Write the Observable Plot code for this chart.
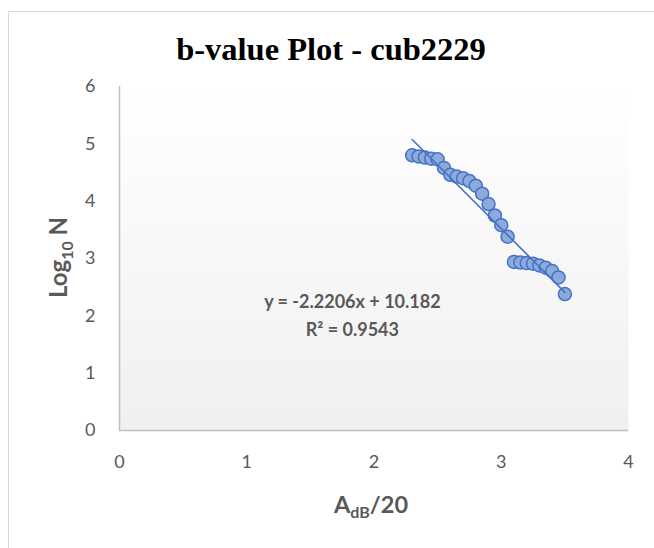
<!DOCTYPE html>
<html>
<head>
<meta charset="utf-8">
<script src="https://cdn.jsdelivr.net/npm/d3@7"></script>
<script src="https://cdn.jsdelivr.net/npm/@observablehq/plot@0.6"></script>
<style>
  html, body { margin: 0; padding: 0; background: #fff; overflow: hidden; }
  #chart { position: relative; width: 654px; height: 548px; }
</style>
</head>
<body>
<div id="chart"></div>
<script>
// ---- data ----
const xValues = [2.3, 2.35, 2.4, 2.45, 2.5, 2.55, 2.6, 2.65, 2.7, 2.75, 2.8, 2.85, 2.9,
                 2.95, 3.0, 3.05, 3.1, 3.15, 3.2, 3.25, 3.3, 3.35, 3.4, 3.45, 3.5];
const yValues = [4.80, 4.78, 4.76, 4.74, 4.73, 4.58, 4.46, 4.43, 4.40, 4.35, 4.27, 4.13, 3.95,
                 3.75, 3.58, 3.38, 2.94, 2.93, 2.92, 2.91, 2.88, 2.84, 2.78, 2.67, 2.38];
const slope = -2.2206;
const intercept = 10.182;
const trendRange = [2.3, 3.5];
const xTicks = [0, 1, 2, 3, 4];
const yTicks = [0, 1, 2, 3, 4, 5, 6];
const eqLabels = ["y = -2.2206x + 10.182", "R² = 0.9543"];
const eqX = [1.83, 1.83];
const eqY = [2.23, 1.745];
const titleText = "b-value Plot - cub2229";

const points = xValues.map((x, i) => ({x, y: yValues[i]}));
const trend = trendRange.map(x => ({x, y: slope * x + intercept}));
const eq = eqLabels.map((t, i) => ({t, x: eqX[i], y: eqY[i]}));

const gray = "#595959";
const fmt = d => String(d);

const plot = Plot.plot({
  width: 654,
  height: 548,
  marginLeft: 119,
  marginRight: 26,
  marginTop: 86,
  marginBottom: 118,
  style: {fontFamily: "Lato, 'Open Sans', sans-serif", fontSize: "18px", color: gray, background: "transparent"},
  x: {domain: [0, 4], ticks: xTicks, tickFormat: fmt, tickSize: 0, tickPadding: 25, label: null},
  y: {domain: [0, 6], ticks: yTicks, tickFormat: fmt, tickSize: 0, tickPadding: 24, label: null},
  marks: [
    Plot.frame({fill: "url(#plotbg)", stroke: "none"}),
    Plot.ruleX([0], {stroke: "#bfbfbf", strokeWidth: 1.5}),
    Plot.ruleY([0], {stroke: "#bfbfbf", strokeWidth: 1.5}),
    Plot.dot(points, {x: "x", y: "y", r: 6.5, fill: "#8eaadc", stroke: "#4472c4", strokeWidth: 1.5}),
    Plot.line(trend, {x: "x", y: "y", stroke: "#4472c4", strokeWidth: 1.6}),
    Plot.text(eq, {x: "x", y: "y", text: "t", fill: gray, fontWeight: "bold", fontSize: 18})
  ]
});

const svg = d3.select(plot);
const defs = svg.insert("defs", ":first-child");
const g = defs.append("linearGradient").attr("id", "plotbg")
  .attr("x1", 0).attr("y1", 0).attr("x2", 0).attr("y2", 1);
g.append("stop").attr("offset", "0%").attr("stop-color", "#ffffff");
g.append("stop").attr("offset", "100%").attr("stop-color", "#f0f0f0");

// outer chart border
svg.insert("rect", "defs + *")
  .attr("x", 8.5).attr("y", 11.5).attr("width", 700).attr("height", 600)
  .attr("fill", "none").attr("stroke", "#d9d9d9").attr("stroke-width", 1);

// title
svg.append("text")
  .attr("x", 331).attr("y", 60)
  .attr("text-anchor", "middle")
  .attr("font-family", "'Liberation Serif', 'Times New Roman', serif")
  .attr("font-weight", "bold").attr("font-size", 32.5).attr("fill", "#000")
  .text(titleText);

// y axis title
const yt = svg.append("text")
  .attr("transform", "translate(67,257.5) rotate(-90)")
  .attr("text-anchor", "middle")
  .attr("font-family", "Lato, sans-serif").attr("font-weight", "bold")
  .attr("font-size", 24).attr("fill", gray);
yt.append("tspan").text("Log");
yt.append("tspan").attr("dy", 6).attr("font-size", 16).text("10");
yt.append("tspan").attr("dy", -6).text(" N");

// x axis title
const xt = svg.append("text")
  .attr("x", 371).attr("y", 513)
  .attr("text-anchor", "middle")
  .attr("font-family", "Lato, sans-serif").attr("font-weight", "bold")
  .attr("font-size", 23.5).attr("fill", gray);
xt.append("tspan").text("A");
xt.append("tspan").attr("dy", 5).attr("font-size", 16).text("dB");
xt.append("tspan").attr("dy", -5).text("/20");

document.getElementById("chart").appendChild(plot);
</script>
</body>
</html>
